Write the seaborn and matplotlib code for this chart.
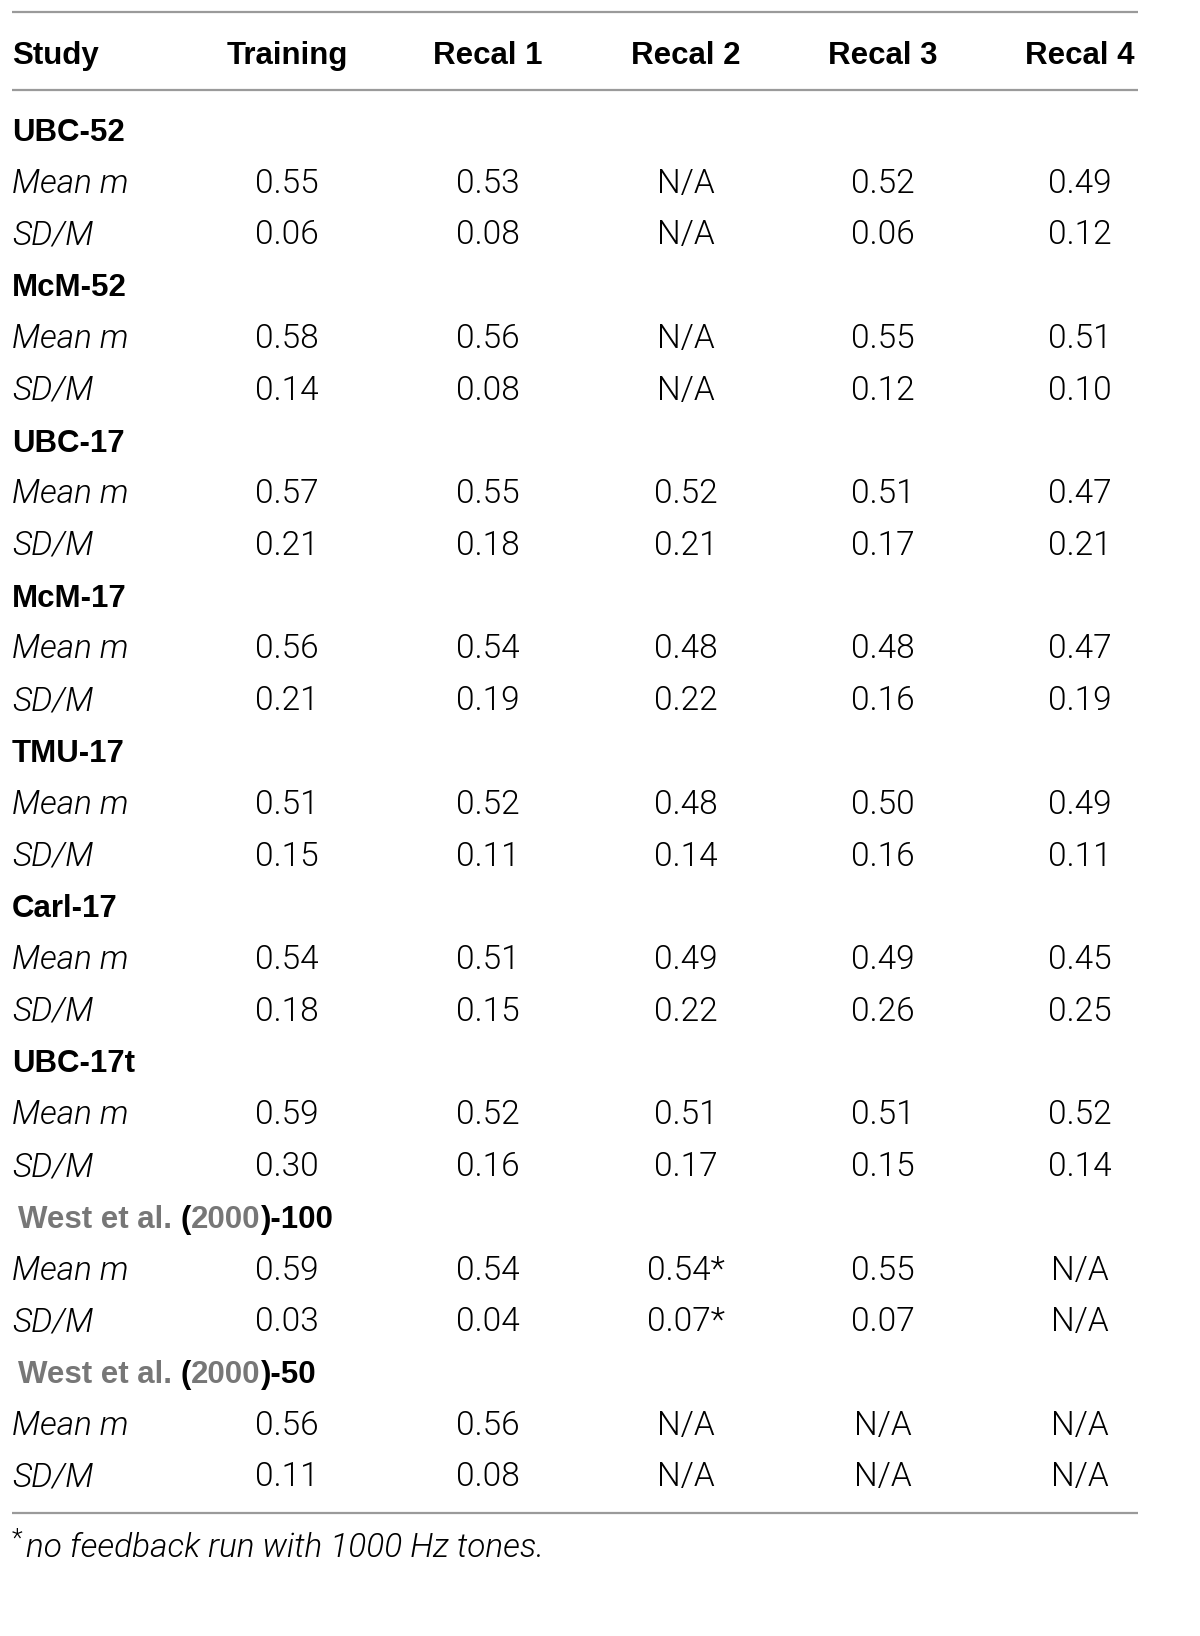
import matplotlib
matplotlib.use("Agg")
import matplotlib.pyplot as plt
import seaborn as sns

# table contents
columns = ["Study", "Training", "Recal 1", "Recal 2", "Recal 3", "Recal 4"]
studies = ["UBC-52", "McM-52", "UBC-17", "McM-17", "TMU-17", "Carl-17", "UBC-17t",
           "West et al. (2000)-100", "West et al. (2000)-50"]
mean_m = [
    ["0.55", "0.53", "N/A", "0.52", "0.49"],
    ["0.58", "0.56", "N/A", "0.55", "0.51"],
    ["0.57", "0.55", "0.52", "0.51", "0.47"],
    ["0.56", "0.54", "0.48", "0.48", "0.47"],
    ["0.51", "0.52", "0.48", "0.50", "0.49"],
    ["0.54", "0.51", "0.49", "0.49", "0.45"],
    ["0.59", "0.52", "0.51", "0.51", "0.52"],
    ["0.59", "0.54", "0.54*", "0.55", "N/A"],
    ["0.56", "0.56", "N/A", "N/A", "N/A"],
]
sd_m = [
    ["0.06", "0.08", "N/A", "0.06", "0.12"],
    ["0.14", "0.08", "N/A", "0.12", "0.10"],
    ["0.21", "0.18", "0.21", "0.17", "0.21"],
    ["0.21", "0.19", "0.22", "0.16", "0.19"],
    ["0.15", "0.11", "0.14", "0.16", "0.11"],
    ["0.18", "0.15", "0.22", "0.26", "0.25"],
    ["0.30", "0.16", "0.17", "0.15", "0.14"],
    ["0.03", "0.04", "0.07*", "0.07", "N/A"],
    ["0.11", "0.08", "N/A", "N/A", "N/A"],
]
row_labels = ["Mean m", "SD/M"]
footnote = "no feedback run with 1000 Hz tones."

sns.set_theme(style="white")
plt.rcParams["font.family"] = ["Liberation Sans", "DejaVu Sans"]
plt.rcParams["text.color"] = "black"

W, H = 1200, 1636
fig = plt.figure(figsize=(W / 100, H / 100), dpi=100)
ax = fig.add_axes([0, 0, 1, 1])
ax.set_xlim(0, W)
ax.set_ylim(H, 0)
ax.axis("off")

fs_b = 22.5   # bold
fs_l = 24     # body text
col_x = [12, 287, 488, 686, 883, 1080]
line_col = "#9a9a9a"
gray = "#777777"
light = dict(family=["Roboto", "DejaVu Sans"], fontweight=300, color="black")
base = 12  # offset from row centre to baseline

for y in (12, 90, 1513):
    ax.plot([12, 1138], [y, y], color=line_col, lw=1.6, solid_capstyle="butt")

# header
for i, c in enumerate(columns):
    ax.text(col_x[i], 52 + base, c, fontsize=fs_b, fontweight="bold",
            color="black", ha="left" if i == 0 else "center", va="baseline")

fig.canvas.draw()
renderer = fig.canvas.get_renderer()


def chain(x, y, parts):
    # draw text pieces one after another, each in its own colour
    for s, col in parts:
        t = ax.text(x, y, s, fontsize=fs_b, fontweight="bold", color=col,
                    ha="left", va="baseline")
        bb = t.get_window_extent(renderer=renderer)
        x += bb.width


row = 0
for g, name in enumerate(studies):
    yc = 129 + row * 51.75
    if name.startswith("West"):
        tail = name.split(")")[1]
        chain(18, yc + base, [("West et al. ", gray), ("(", "black"),
                              ("2000", gray), (")" + tail, "black")])
    else:
        ax.text(12, yc + base, name, fontsize=fs_b, fontweight="bold",
                color="black", ha="left", va="baseline")
    row += 1
    for lab, vals in zip(row_labels, [mean_m[g], sd_m[g]]):
        yc = 129 + row * 51.75
        ax.text(12, yc + base, lab, fontsize=fs_l, fontstyle="italic",
                ha="left", va="baseline", **light)
        for j, v in enumerate(vals):
            ax.text(col_x[j + 1], yc + base, v, fontsize=fs_l,
                    ha="center", va="baseline", **light)
        row += 1

# footnote
ax.text(12, 1545 + 2, "*", fontsize=fs_l * 0.75, ha="left", va="baseline", **light)
ax.text(26, 1545 + base, footnote, fontsize=fs_l, fontstyle="italic",
        ha="left", va="baseline", **light)

fig.savefig("out.png", dpi=100)
